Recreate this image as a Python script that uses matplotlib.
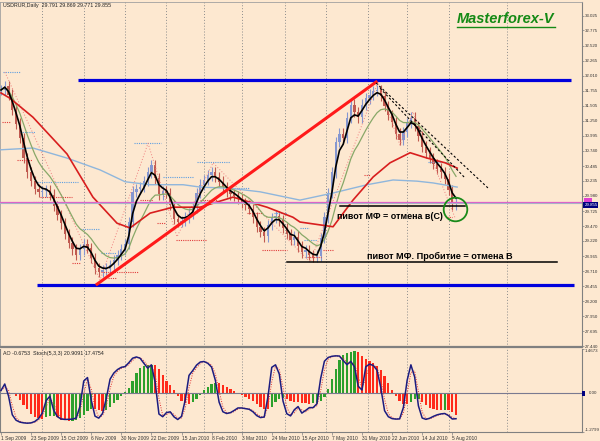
import numpy as np
import pandas as pd
import matplotlib
matplotlib.use("Agg")
import matplotlib.pyplot as plt
from matplotlib.lines import Line2D
import matplotlib.transforms as mtransforms

plt.rcParams['font.family'] = ['Liberation Sans', 'DejaVu Sans']

# USDRUR daily, one close for every second trading day from 1 Sep 2009
closes = [31.77, 31.84, 31.69, 31.43, 31.20, 30.96, 30.62, 30.38, 30.23, 30.10,
          30.05, 30.06, 30.08, 30.00, 29.81, 29.66, 29.52, 29.34, 29.19, 29.08,
          28.98, 29.08, 29.17, 29.10, 28.93, 28.76, 28.70, 28.73, 28.75, 28.81,
          28.90, 28.98, 29.08, 29.17, 29.54, 30.05, 30.10, 30.13, 30.23, 30.38,
          30.50, 30.28, 30.01, 30.06, 30.03, 29.83, 29.59, 29.54, 29.56, 29.62,
          29.68, 29.78, 30.03, 30.17, 30.25, 30.33, 30.38, 30.30, 30.22, 30.13,
          30.06, 30.01, 29.98, 29.93, 29.86, 29.83, 29.76, 29.62, 29.46, 29.37,
          29.30, 29.49, 29.61, 29.64, 29.57, 29.44, 29.34, 29.24, 29.29, 29.13,
          29.03, 29.07, 28.98, 28.95, 28.97, 29.27, 29.62, 30.03, 30.38, 30.89,
          31.03, 30.96, 31.30, 31.52, 31.40, 31.31, 31.52, 31.63, 31.69, 31.75,
          31.77, 31.67, 31.50, 31.35, 31.23, 31.03, 30.93, 31.06, 31.21, 31.30,
          31.16, 30.99, 30.81, 30.71, 30.62, 30.52, 30.44, 30.38, 30.27, 30.08,
          29.84, 29.855]
step = 2  # trading days per value

# slow moving averages (bar index, price)
red_ma_bar = [0, 4.8, 17, 35.1, 48.9, 61.7, 68.6, 79.3, 91.5, 105.9, 123.4,
              141.5, 155.3, 159, 176.6, 187.2, 197.9, 206.9, 217.6, 226.6, 236.2, 242.6]
red_ma = [31.72, 31.63, 31.31, 30.69, 29.96, 29.52, 29.44, 29.69, 29.79, 29.79, 29.96,
          29.79, 29.62, 29.54, 29.46, 29.91, 30.30, 30.54, 30.71, 30.62, 30.54, 30.45]
blue_ma_bar = [0, 17, 35.1, 52.7, 66, 79.3, 96.8, 105.9, 121.8, 137.8, 159,
               176.6, 194.7, 208.5, 221.3, 229.8, 242.6]
blue_ma = [30.76, 30.79, 30.62, 30.42, 30.22, 30.17, 30.17, 30.13, 30.11, 30.05, 29.91,
           30.03, 30.17, 30.25, 30.23, 30.20, 30.13]

# fractal levels (from bar, to bar, price)
frac_hi = [(1, 10, 32.07), (10, 18, 31.06), (19, 41, 30.22), (42, 52, 29.42),
           (53, 61, 29.02), (62, 70, 29.86), (71, 85, 30.87), (86, 102, 30.30),
           (104, 122, 30.55), (123, 132, 30.11), (145, 152, 29.69), (159, 164, 29.44),
           (161, 168, 29.24), (227, 237, 30.55)]
frac_lo = [(0.5, 5, 31.23), (8.5, 16.5, 30.59), (17, 21, 29.88), (21, 38, 29.96),
           (38, 42, 28.85), (53, 73, 28.70), (57, 61, 28.59), (74, 81, 29.91),
           (83, 87, 29.52), (93, 109, 29.24), (106, 115, 29.91), (131, 139, 29.69),
           (139, 152, 29.07), (171, 177, 29.07), (163, 170, 28.95), (193, 196, 30.33),
           (237, 240, 29.62)]
zz_bar = [2.1, 52.7, 78.2, 93.6, 112.8, 164.4, 200.5, 212.2, 219.1, 241.5]
zz_price = [32.07, 28.56, 30.87, 29.29, 30.54, 28.86, 31.90, 30.84, 31.40, 29.61]

# drawn objects
chan_top = (41, 303.2, 31.94)
chan_bot = (19.1, 304.8, 28.484)
trend_bar, trend_price = [51.1, 199.5], [28.49, 31.905]
fan1_bar, fan1_price = [199.5, 259.6], [31.888, 30.097]
fan2_bar, fan2_price = [201.6, 246.8], [31.80, 30.283]
pivot_c = (180.3, 246.8, 29.815)
pivot_b = (152.1, 295.7, 28.864)
circle_at = (241.5, 29.76)
pink_level = 29.883
last_price = 29.855

date_labels = ['1 Sep 2009', '23 Sep 2009', '15 Oct 2009', '6 Nov 2009', '30 Nov 2009',
               '22 Dec 2009', '15 Jan 2010', '8 Feb 2010', '3 Mar 2010', '24 Mar 2010',
               '15 Apr 2010', '7 May 2010', '31 May 2010', '22 Jun 2010', '14 Jul 2010',
               '5 Aug 2010']
date_bars = list(range(0, 241, 16))
month_bars = [22, 44, 66, 88, 108, 128, 151, 173, 195, 216, 238, 269]
price_ticks = [33.025, 32.775, 32.520, 32.265, 32.010, 31.755, 31.505, 31.250, 30.995,
               30.740, 30.485, 30.235, 29.980, 29.725, 29.470, 29.220, 28.965, 28.710,
               28.455, 28.200, 27.950, 27.695, 27.440]

BG = '#fde8d0'
W, H = 600, 441

c = np.array(closes)
x = np.arange(len(c)) * step
o = np.r_[c[0], c[:-1]]
hi = np.maximum(o, c) + 0.09
lo = np.minimum(o, c) - 0.09
fast = pd.Series(c).ewm(span=3).mean()
mid = pd.Series(c).ewm(span=10).mean()

med = pd.Series((hi + lo) / 2)
ao = (med.rolling(3, min_periods=1).mean() - med.rolling(17, min_periods=1).mean()).values
ao_col = ['#2ca02c' if i > 0 and ao[i] > ao[i - 1] else '#ff2a1a' for i in range(len(ao))]

ll = pd.Series(lo).rolling(3, min_periods=1).min()
hh = pd.Series(hi).rolling(3, min_periods=1).max()
stoch_k = 100 * (pd.Series(c) - ll).rolling(2, min_periods=1).sum() / (hh - ll).rolling(2, min_periods=1).sum()
stoch_d = stoch_k.rolling(2, min_periods=1).mean()

fig = plt.figure(figsize=(6, 4.41), dpi=100, facecolor=BG)
ax = fig.add_axes([0, (H - 347) / H, 582 / W, 345 / H], facecolor=BG)
ax2 = fig.add_axes([0, (H - 432) / H, 582 / W, 83 / H], facecolor=BG)
xlim = (-0.53, 309.0)
ax.set_xlim(*xlim)
ax.set_ylim(27.429, 33.256)
ax2.set_xlim(*xlim)
ax2.set_ylim(-1.2799, 1.4673)

for a in (ax, ax2):
    for m in month_bars:
        a.axvline(m, color='#8c8c8c', lw=0.7, ls=(0, (1, 2)), zorder=0)

# candles
up = c >= o
ax.vlines(x, lo, hi, colors=np.where(up, '#8597d0', '#c05a50'), lw=0.8, zorder=2)
ax.bar(x, np.maximum(np.abs(c - o), 0.02), bottom=np.minimum(o, c), width=1.2,
       color=np.where(up, '#8597d0', '#c05a50'), zorder=2)

for b1, b2, p in frac_hi:
    ax.plot([b1, b2], [p, p], color='#5f9fe0', lw=0.8, ls=(0, (1, 1)), zorder=3)
for b1, b2, p in frac_lo:
    ax.plot([b1, b2], [p, p], color='#e03c3c', lw=0.8, ls=(0, (1, 1)), zorder=3)
ax.plot(zz_bar, zz_price, color='#f08080', lw=0.7, ls=(0, (1, 2)), zorder=3)

ax.plot(blue_ma_bar, blue_ma, color='#8fb6dc', lw=1.0, zorder=3)
ax.plot(x, mid, color='#88a868', lw=0.9, zorder=3)
ax.plot(red_ma_bar, red_ma, color='#d81e1e', lw=1.2, zorder=3)
ax.plot(x, fast, color='black', lw=1.2, zorder=4)

ax.axhline(pink_level, color='#e060c8', lw=0.9, zorder=3)
ax.axhline(last_price, color='#a8b0c8', lw=0.8, zorder=3)

# drawings
ax.plot(chan_top[:2], [chan_top[2]] * 2, color='#0000dd', lw=2.3, zorder=5, solid_capstyle='butt')
ax.plot(chan_bot[:2], [chan_bot[2]] * 2, color='#0000dd', lw=2.3, zorder=5, solid_capstyle='butt')
ax.plot(trend_bar, trend_price, color='#ff1a1a', lw=2.2, zorder=5)
ax.plot(fan1_bar, fan1_price, color='black', lw=0.8, ls=(0, (2, 2)), zorder=5)
ax.plot(fan2_bar, fan2_price, color='black', lw=0.8, ls=(0, (2, 2)), zorder=5)
ax.plot(pivot_c[:2], [pivot_c[2]] * 2, color='black', lw=1.1, zorder=5)
ax.plot(pivot_b[:2], [pivot_b[2]] * 2, color='black', lw=1.1, zorder=5)
ax.plot([circle_at[0]], [circle_at[1]], marker='o', ms=17, mfc='none', mec='#1a8a1a', mew=1.3, zorder=6)

ax.text(178.7, 29.64, 'пивот МФ = отмена в(С)', fontsize=6.4, fontweight='bold', va='center', zorder=7)
ax.text(194.7, 28.966, 'пивот МФ. Пробитие = отмена В', fontsize=6.6, fontweight='bold', va='center', zorder=7)

# axes, ticks
ax.yaxis.tick_right()
ax.set_yticks(price_ticks)
ax.set_yticklabels([f'{v:.3f}' for v in price_ticks])
ax.tick_params(axis='y', labelsize=3.2, length=1.5, width=0.5, color='#808080', labelcolor='#333333', pad=0.5)
ax.set_xticks([])
for s in ('left', 'top'):
    ax.spines[s].set_color('#a0a0a0')
    ax.spines[s].set_linewidth(0.6)
ax.spines['right'].set_color('#808080')
ax.spines['right'].set_linewidth(0.8)
ax.spines['bottom'].set_color('#808080')
ax.spines['bottom'].set_linewidth(1.6)

tr = mtransforms.blended_transform_factory(ax.transAxes, ax.transData)
ax.text(1.004, pink_level + 0.02, ' ' * 9, transform=tr, fontsize=2, va='center',
        bbox=dict(fc='#e040d0', ec='none', pad=0.4), clip_on=False)
ax.text(1.004, last_price - 0.03, '29.855', transform=tr, fontsize=3.2, color='white', va='center',
        bbox=dict(fc='#000080', ec='none', pad=0.6), clip_on=False, zorder=8)

# oscillator panel
ax2.bar(x, ao, width=1.2, color=ao_col, zorder=2)
ax2.axhline(0, color='#7a7a90', lw=0.8, zorder=3)
ax3 = ax2.twinx()
ax3.set_ylim(-2, 102)
ax3.plot(x, stoch_d, color='#e03030', lw=0.7, ls=(0, (1, 1.5)))
ax3.plot(x, stoch_k, color='#1c1c80', lw=1.1)
ax3.set_yticks([])
for s in ax3.spines.values():
    s.set_visible(False)

ax2.yaxis.tick_right()
ax2.set_yticks([1.4673, -1.2799])
ax2.set_yticklabels(['1.4673', '-1.2799'])
ax2.get_yticklabels()[0].set_va('top')
ax2.get_yticklabels()[1].set_va('bottom')
ax2.tick_params(axis='y', labelsize=3.2, length=1.5, width=0.5, color='#808080', labelcolor='#333333', pad=0.5)
ax2.set_xticks(date_bars)
ax2.set_xticklabels(date_labels)
for t in ax2.get_xticklabels():
    t.set_ha('left')
ax2.tick_params(axis='x', labelsize=3.5, length=2, width=0.5, color='#808080', labelcolor='#333333', pad=1)
ax2.spines['top'].set_visible(False)
for s in ('left', 'right', 'bottom'):
    ax2.spines[s].set_color('#808080')
    ax2.spines[s].set_linewidth(0.8)
tr2 = mtransforms.blended_transform_factory(ax2.transAxes, ax2.transData)
ax2.text(1.002, 0, ' ', transform=tr2, fontsize=3.2, va='center',
         bbox=dict(fc='#000080', ec='none', pad=0.5), clip_on=False)
ax2.text(1.012, 0, '0.00', transform=tr2, fontsize=3.2, va='center', color='#333333', clip_on=False)

# headers
fig.text(3 / W, 1 - 5 / H, 'USDRUR,Daily  29.791 29.869 29.771 29.855', fontsize=3.8, va='center', color='#222222')
fig.text(3 / W, 1 - 353 / H, 'AO -0.6753  Stoch(5,3,3) 20.9091 17.4754', fontsize=3.8, va='center', color='#222222')
brand = fig.text(457 / W, 1 - 19 / H, 'Masterforex-V', color='#158a15', fontsize=10.5,
                 fontweight='bold', fontstyle='italic', va='center')
fig.canvas.draw()
bb = brand.get_window_extent()
fig.add_artist(Line2D([bb.x0 / W, bb.x1 / W], [(bb.y0 - 1) / H] * 2, color='#158a15', lw=1.0))

fig.savefig('out.png', dpi=100, facecolor=BG)
